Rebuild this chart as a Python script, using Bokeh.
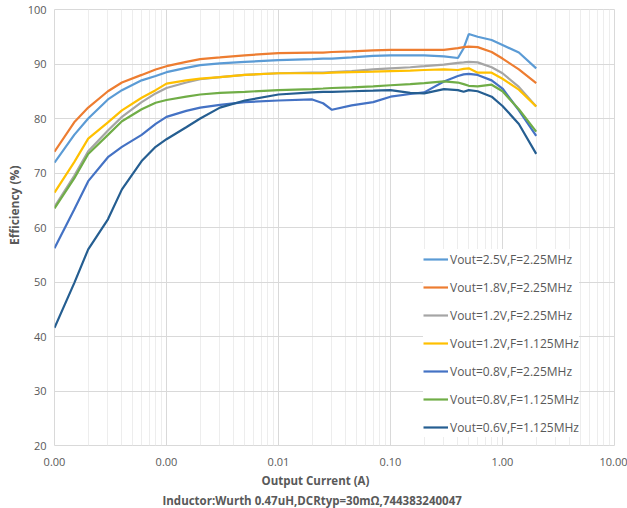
from bokeh.plotting import figure
from bokeh.models import (Range1d, FixedTicker, CustomJSTickFormatter, Legend, LegendItem, Title)
from bokeh.embed import file_html
from bokeh.resources import INLINE

# ---------------- data ----------------
current_a = [0.0001, 0.00015, 0.0002, 0.0003, 0.0004, 0.0006, 0.0008, 0.001, 0.0015, 0.002,
             0.003, 0.005, 0.01, 0.02, 0.025, 0.03, 0.045, 0.07, 0.1, 0.15, 0.2, 0.3, 0.4,
             0.45, 0.5, 0.6, 0.8, 1.0, 1.4, 2.0]

eff_25v_225 = [71.9, 77.0, 80.0, 83.5, 85.2, 87.0, 87.8, 88.5, 89.3, 89.8,
               90.1, 90.4, 90.7, 90.9, 91.0, 91.0, 91.2, 91.5, 91.6, 91.6, 91.6, 91.4, 91.1,
               92.9, 95.5, 95.0, 94.4, 93.5, 92.1, 89.2]
eff_18v_225 = [73.9, 79.3, 82.0, 85.0, 86.6, 88.0, 89.0, 89.6, 90.4, 90.9,
               91.2, 91.6, 92.0, 92.1, 92.1, 92.2, 92.3, 92.5, 92.6, 92.6, 92.6, 92.6, 92.9,
               93.1, 93.2, 93.1, 92.2, 91.0, 89.0, 86.5]
eff_12v_225 = [63.8, 69.5, 74.0, 77.8, 80.3, 83.0, 84.6, 85.6, 86.6, 87.2,
               87.6, 88.0, 88.3, 88.4, 88.4, 88.5, 88.7, 89.0, 89.2, 89.4, 89.6, 89.9, 90.2,
               90.3, 90.4, 90.3, 89.4, 88.3, 85.8, 82.2]
eff_12v_1125 = [66.4, 72.0, 76.3, 79.3, 81.5, 83.8, 85.2, 86.4, 87.0, 87.3,
                87.6, 88.0, 88.3, 88.3, 88.3, 88.4, 88.5, 88.6, 88.7, 88.8, 88.9, 89.0, 88.9,
                89.1, 89.2, 88.4, 88.4, 87.3, 85.3, 82.2]
eff_08v_225 = [56.2, 63.3, 68.5, 72.9, 74.8, 77.0, 79.0, 80.3, 81.4, 82.0,
               82.5, 83.0, 83.3, 83.5, 82.8, 81.6, 82.4, 83.0, 84.0, 84.5, 84.8, 86.8, 87.8,
               88.1, 88.2, 88.0, 87.0, 85.5, 81.5, 76.8]
eff_08v_1125 = [63.5, 69.0, 73.5, 77.0, 79.5, 81.7, 82.9, 83.4, 84.0, 84.4,
                84.7, 84.9, 85.2, 85.4, 85.5, 85.6, 85.7, 85.9, 86.1, 86.3, 86.5, 86.8, 86.6,
                86.3, 86.0, 85.9, 86.2, 85.0, 81.7, 77.6]
eff_06v_1125 = [41.6, 49.8, 56.0, 61.5, 67.0, 72.2, 74.8, 76.2, 78.4, 80.0,
                82.0, 83.3, 84.4, 84.8, 84.9, 84.9, 85.0, 85.1, 85.2, 84.7, 84.6, 85.4, 85.2,
                84.9, 85.2, 85.0, 84.0, 82.3, 79.0, 73.5]

series_names = ["Vout=2.5V,F=2.25MHz", "Vout=1.8V,F=2.25MHz", "Vout=1.2V,F=2.25MHz",
                "Vout=1.2V,F=1.125MHz", "Vout=0.8V,F=2.25MHz", "Vout=0.8V,F=1.125MHz",
                "Vout=0.6V,F=1.125MHz"]
series_values = [eff_25v_225, eff_18v_225, eff_12v_225, eff_12v_1125,
                 eff_08v_225, eff_08v_1125, eff_06v_1125]
series_colors = ["#5B9BD5", "#ED7D31", "#A5A5A5", "#FFC000", "#4472C4", "#70AD47", "#255E91"]

x_ticks = [0.0001, 0.001, 0.01, 0.1, 1.0, 10.0]
x_tick_labels = ["0.00", "0.00", "0.01", "0.10", "1.00", "10.00"]
y_ticks = [20, 30, 40, 50, 60, 70, 80, 90, 100]

x_title = "Output Current (A)"
x_subtitle = "Inductor:Wurth 0.47uH,DCRtyp=30m\u03a9,744383240047"
y_title = "Efficiency (%)"

# ---------------- figure ----------------
FONT = "Open Sans"
TXT = "#595959"

p = figure(width=627, height=508, x_axis_type="log",
           x_range=Range1d(0.0001, 10), y_range=Range1d(20, 100),
           output_backend="svg", toolbar_location=None,
           min_border_left=54, min_border_right=13, min_border_top=9, min_border_bottom=62)
p.background_fill_color = "white"
p.border_fill_color = "white"
p.outline_line_color = "#D9D9D9"

minor = [d * k for d in x_ticks[:-1] for k in range(2, 10)]
p.xaxis.ticker = FixedTicker(ticks=x_ticks, minor_ticks=minor)
p.xaxis.formatter = CustomJSTickFormatter(args=dict(tvals=x_ticks, tlabels=x_tick_labels), code="""
    for (let i = 0; i < tvals.length; i++) {
        if (Math.abs(Math.log10(tvals[i]) - Math.log10(tick)) < 1e-6) return tlabels[i];
    }
    return "";
""")
p.yaxis.ticker = FixedTicker(ticks=y_ticks)

for ax in (p.xaxis[0], p.yaxis[0]):
    ax.axis_line_color = None
    ax.major_tick_line_color = None
    ax.minor_tick_line_color = None
    ax.major_tick_out = 0
    ax.major_tick_in = 0
    ax.major_label_text_font = FONT
    ax.major_label_text_font_size = "11px"
    ax.major_label_text_color = TXT

p.xaxis.major_label_standoff = 8
p.yaxis.major_label_standoff = 8

p.xgrid.grid_line_color = "#D9D9D9"
p.xgrid.minor_grid_line_color = "#EDEDED"
p.ygrid.grid_line_color = "#D9D9D9"

items = []
for name, vals, col in zip(series_names, series_values, series_colors):
    r = p.line(current_a, vals, line_color=col, line_width=2.2)
    items.append(LegendItem(label=name, renderers=[r]))

legend = Legend(items=items, location=(369, 8), orientation="vertical",
                background_fill_color="white", background_fill_alpha=1.0,
                border_line_color=None,
                label_text_font=FONT, label_text_font_size="12px", label_text_color=TXT,
                glyph_width=25, glyph_height=20, label_height=20, label_standoff=2,
                spacing=8, padding=4, margin=0)
p.add_layout(legend)

t_y = Title(text=y_title, align="right", offset=156, standoff=4,
            text_font=FONT, text_font_size="12px", text_font_style="bold", text_color=TXT)
p.add_layout(t_y, "left")

t_x1 = Title(text=x_title, align="left", offset=207, standoff=4,
             text_font=FONT, text_font_size="11.5px", text_font_style="bold", text_color=TXT)
t_x2 = Title(text=x_subtitle, align="left", offset=108, standoff=2,
             text_font=FONT, text_font_size="11.5px", text_font_style="bold", text_color=TXT)
p.add_layout(t_x1, "below")
p.add_layout(t_x2, "below")

open("out.html", "w").write(file_html(p, INLINE))
